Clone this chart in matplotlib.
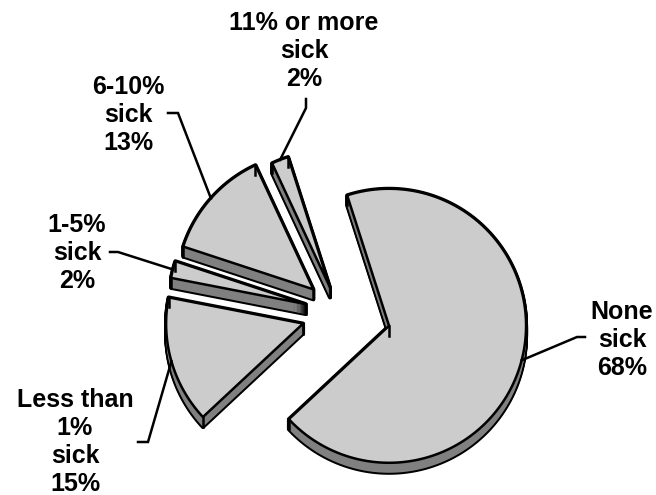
import numpy as np
import matplotlib
matplotlib.use('Agg')
import matplotlib.pyplot as plt
from matplotlib.patches import Polygon

# Share of flocks by level of sickness
categories = ['None\nsick', '11% or more\nsick', '6-10%\nsick', '1-5%\nsick', 'Less than\n1%\nsick']
shares = [68, 2, 13, 2, 15]

# Layout (pixel space, y grows downward)
TOP = '#cccccc'
SIDE = '#808080'
R = 137
CX, CY = 340, 313
DEPTH = 10
START = 223
LW = 1.8
explode = [0.37, 0.20, 0.26, 0.26, 0.28]
text_pos = [(622, 340), (304, 51), (128, 115), (77, 253), (75, 442)]
elbows = [((585, 337), (577, 337)),
          ((306, 99), (306, 108)),
          ((168, 113), (178, 113)),
          ((110, 252), (118, 252)),
          ((138, 442), (148, 442))]

fig = plt.figure(figsize=(6.56, 4.95), dpi=100)
ax = fig.add_axes([0, 0, 1, 1])
ax.set_xlim(0, 656)
ax.set_ylim(495, 0)
ax.axis('off')

total = float(sum(shares))
spans = [360.0 * s / total for s in shares]
starts = START + np.concatenate([[0], np.cumsum(spans)[:-1]])


def slice_outline(apex, a0, a1):
    th = np.radians(np.linspace(a0, a1, max(int(abs(a1 - a0)) * 2, 8)))
    xs = apex[0] + R * np.cos(th)
    ys = apex[1] - R * np.sin(th)
    return np.vstack([[apex], np.column_stack([xs, ys])])


slices = []
for i, (a0, sp) in enumerate(zip(starts, spans)):
    bis = np.radians(a0 + sp / 2)
    apex = (CX + explode[i] * R * np.cos(bis), CY - explode[i] * R * np.sin(bis))
    slices.append((i, apex, a0, a0 + sp, bis))

# back slices first
slices.sort(key=lambda s: np.sin(s[4]), reverse=True)

for i, apex, a0, a1, bis in slices:
    pts = slice_outline(apex, a0, a1)
    # extruded side: black silhouette, then grey fill
    for k in range(DEPTH + 1):
        ax.add_patch(Polygon(pts + [0, k], closed=True, facecolor='black',
                             edgecolor='black', lw=LW * 1.6, joinstyle='round'))
    for k in range(DEPTH + 1):
        ax.add_patch(Polygon(pts + [0, k], closed=True, facecolor=SIDE,
                             edgecolor='none'))
    for p in (pts[0], pts[1], pts[-1]):
        ax.plot([p[0], p[0]], [p[1], p[1] + DEPTH], color='black', lw=LW)
    ax.add_patch(Polygon(pts, closed=True, facecolor=TOP, edgecolor='black',
                         lw=LW, joinstyle='round'))

# labels with leader lines to the middle of each rim
for i, apex, a0, a1, bis in slices:
    rim = (apex[0] + R * np.cos(bis), apex[1] - R * np.sin(bis))
    (x0, y0), (x1, y1) = elbows[i]
    ax.plot([x0, x1, rim[0]], [y0, y1, rim[1]], color='black', lw=LW,
            solid_joinstyle='miter')
    pct = f'{shares[i]}%'
    ax.text(text_pos[i][0], text_pos[i][1], f'{categories[i]}\n{pct}',
            ha='center', va='center', multialignment='center',
            fontsize=18, fontweight='bold', family='Liberation Sans',
            linespacing=1.22)

fig.savefig('out.png', dpi=100)
